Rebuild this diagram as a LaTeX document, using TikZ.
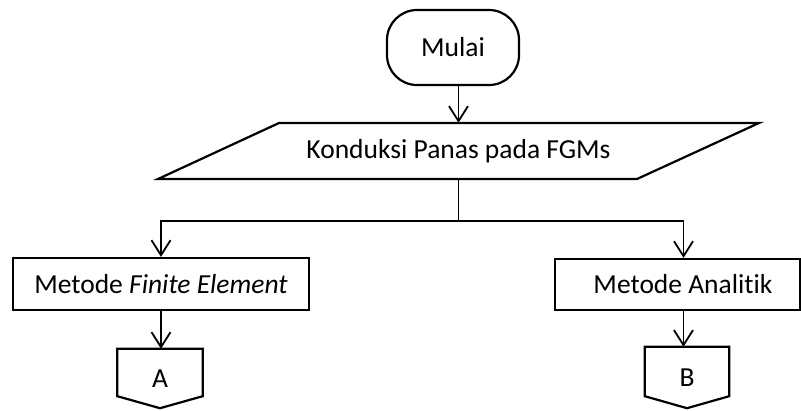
\documentclass[tikz,border=0pt]{standalone}
\usepackage{fontspec}
\setmainfont{Carlito}[RawFeature={-liga;-clig;-dlig}]
\usetikzlibrary{arrows.meta}
\begin{document}
\begin{tikzpicture}[x=1pt,y=-1pt,
  lbl/.style={inner sep=0pt, font=\fontsize{27.5}{32}\selectfont},
  box/.style={lbl, draw, line width=2.2pt},
  outline/.style={line width=2.2pt, line join=miter},
  conn/.style={line width=1.8pt},
  arr/.style={conn, -{Straight Barb[length=15pt,width=19pt,line width=1.8pt]}}]
\useasboundingbox (0,0) rectangle (801,410);

% start terminal
\node[box, rounded corners=30pt, minimum width=132pt, minimum height=75pt] (mulai) at (453,47.5) {Mulai};

% input/output parallelogram
\node[lbl, minimum height=56pt] (konduksi) at (458.5,151) {Konduksi Panas pada FGMs};
\draw[outline] (158,179) -- (279,123) -- (759,123) -- (637,179) -- cycle;

% method boxes
\node[box, minimum width=296pt, minimum height=52pt] (fem) at (161,284) {Metode \textit{Finite Element}};
\node[box, minimum width=245pt, minimum height=51pt] (ana) at (677.5,284.5) {\hspace*{11pt}Metode Analitik};

% off-page connectors
\node[lbl, minimum width=85pt, minimum height=59pt] (A) at (160,378.5) {A};
\draw[outline] (A.north west) -- (A.north east) -- ([yshift=12pt]A.south east) -- (A.south) -- ([yshift=12pt]A.south west) -- cycle;
\node[lbl, minimum width=84pt, minimum height=61pt] (B) at (687,377.5) {B};
\draw[outline] (B.north west) -- (B.north east) -- ([yshift=12pt]B.south east) -- (B.south) -- ([yshift=12pt]B.south west) -- cycle;

% connectors
\coordinate (split) at (458.5,221);
\coordinate (colB) at (683.5,0);
\draw[arr] (mulai.south -| konduksi.north) -- (konduksi.north);
\draw[conn] (konduksi.south) -- (split);
\draw[arr] (split) -| (fem.north);
\draw[arr] (split) -| (colB |- ana.north);
\draw[arr] (fem.south) -- (fem.south |- A.north);
\draw[arr] (colB |- ana.south) -- (colB |- B.north);
\end{tikzpicture}
\end{document}
